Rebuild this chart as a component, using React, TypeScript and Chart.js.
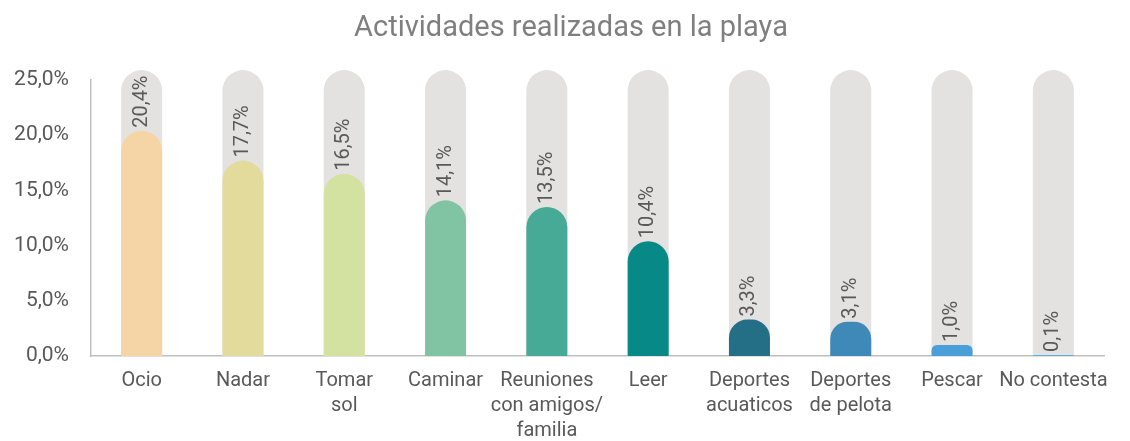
import React, { useEffect, useRef } from "react";
import { Chart, registerables } from "chart.js";

Chart.register(...registerables);

const categories: (string | string[])[] = [
  "Ocio",
  "Nadar",
  ["Tomar", "sol"],
  "Caminar",
  ["Reuniones", "con amigos/", "familia"],
  "Leer",
  ["Deportes", "acuaticos"],
  ["Deportes", "de pelota"],
  "Pescar",
  "No contesta",
];
const values = [20.4, 17.7, 16.5, 14.1, 13.5, 10.4, 3.3, 3.1, 1.0, 0.1];
const backgroundValues = [25.9, 25.9, 25.9, 25.9, 25.9, 25.9, 25.9, 25.9, 25.9, 25.9];
const barColors = [
  "#F5D5A6",
  "#E3DB9B",
  "#D3E1A1",
  "#80C4A3",
  "#46AA96",
  "#078987",
  "#246F85",
  "#3F89B8",
  "#4B9FD8",
  "#5FB0E0",
];
const yTicks = [0, 5, 10, 15, 20, 25];
const titleText = "Actividades realizadas en la playa";

const FONT = "Roboto, 'Liberation Sans', sans-serif";
const fmt = (v: number) => v.toFixed(1).replace(".", ",") + "%";

const valueLabels = {
  id: "valueLabels",
  afterDatasetsDraw(chart: any) {
    const meta = chart.getDatasetMeta(0);
    const ctx = chart.ctx;
    ctx.save();
    ctx.font = `20px ${FONT}`;
    ctx.fillStyle = "#595959";
    ctx.textAlign = "left";
    ctx.textBaseline = "middle";
    meta.data.forEach((bar: any, i: number) => {
      ctx.save();
      ctx.translate(bar.x, bar.y - 3);
      ctx.rotate(-Math.PI / 2);
      ctx.fillText(fmt(values[i]), 0, 0);
      ctx.restore();
    });
    ctx.restore();
  },
};

const customTitle = {
  id: "customTitle",
  afterDraw(chart: any) {
    const ctx = chart.ctx;
    ctx.save();
    ctx.font = `29px ${FONT}`;
    ctx.fillStyle = "#7F7F7F";
    ctx.textAlign = "center";
    ctx.textBaseline = "middle";
    ctx.fillText(titleText, 571, 29);
    ctx.restore();
  },
};

export default function App() {
  const ref = useRef<HTMLCanvasElement | null>(null);
  useEffect(() => {
    document.body.style.margin = "0";
    if (!ref.current) return;
    const chart = new Chart(ref.current, {
      type: "bar",
      data: {
        labels: categories as any,
        datasets: [
          {
            data: values,
            backgroundColor: barColors,
            borderRadius: { topLeft: 30, topRight: 30 },
            borderSkipped: "bottom",
            grouped: false,
            order: 0,
            barPercentage: 0.405,
            categoryPercentage: 1,
          } as any,
          {
            data: backgroundValues,
            backgroundColor: "#E3E2E1",
            borderRadius: { topLeft: 30, topRight: 30 },
            borderSkipped: "bottom",
            grouped: false,
            order: 1,
            clip: false,
            barPercentage: 0.405,
            categoryPercentage: 1,
          } as any,
        ],
      },
      options: {
        animation: false,
        responsive: false,
        layout: { padding: { left: 0, right: 26, top: 80, bottom: 0 } },
        plugins: {
          legend: { display: false },
          tooltip: { enabled: false },
          title: { display: false },
        },
        scales: {
          x: {
            grid: { display: false, drawTicks: false },
            border: { display: true, color: "#BFBFBF", width: 1.5 },
            ticks: {
              color: "#595959",
              font: { family: FONT, size: 20, lineHeight: 1.25 },
              padding: 12,
              maxRotation: 0,
              autoSkip: false,
            },
            afterFit: (s: any) => {
              s.height = 85;
            },
          },
          y: {
            min: 0,
            max: 25,
            afterBuildTicks: (s: any) => {
              s.ticks = yTicks.map((v) => ({ value: v }));
            },
            grid: { display: false, drawTicks: false },
            border: { display: true, color: "#BFBFBF", width: 1.5 },
            ticks: {
              color: "#595959",
              font: { family: FONT, size: 21 },
              padding: 22,
              callback: (v: any) => fmt(Number(v)),
            },
            afterFit: (s: any) => {
              s.width = 91;
            },
          },
        },
      },
      plugins: [valueLabels, customTitle],
    });
    return () => chart.destroy();
  }, []);
  return (
    <div style={{ width: 1130, height: 441 }}>
      <canvas ref={ref} width={1130} height={441} style={{ width: 1130, height: 441, display: "block" }} />
    </div>
  );
}
